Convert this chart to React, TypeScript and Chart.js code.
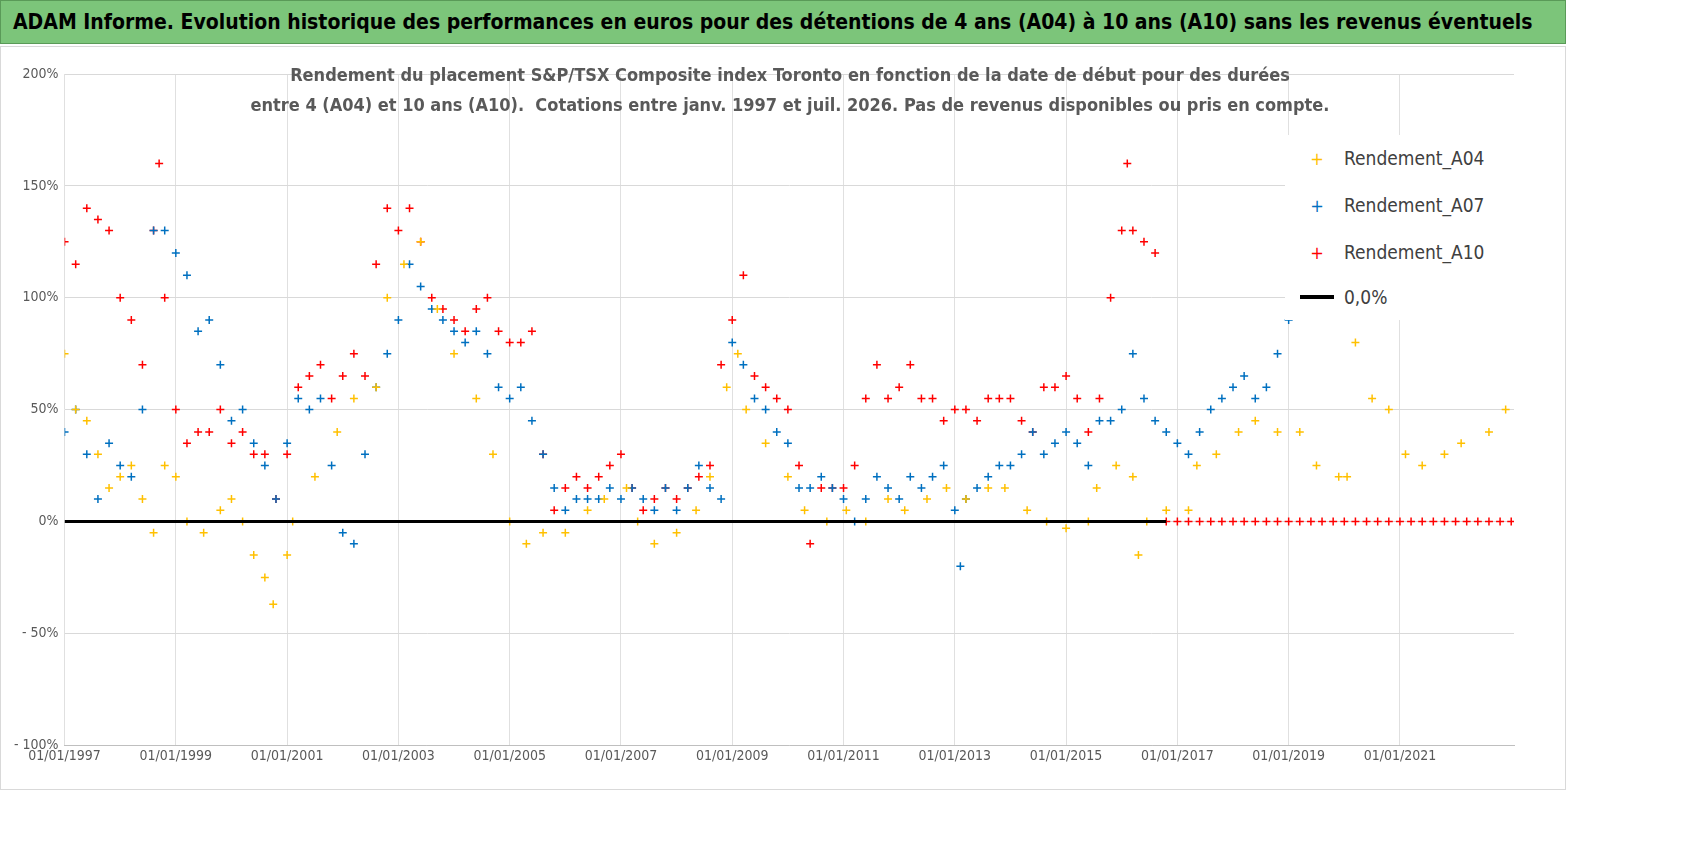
import React, { useEffect, useRef } from "react";
import { Chart, registerables } from "chart.js";
Chart.register(...registerables);

const A04: [number, number][] = [
  [1997.0, 75], [1997.2, 50], [1997.4, 45], [1997.6, 30], [1997.8, 15], [1998.0, 20], [1998.2, 25], [1998.4, 10], [1998.6, -5], [1998.8, 25],
  [1999.0, 20], [1999.2, 0], [1999.5, -5], [1999.8, 5], [2000.0, 10], [2000.2, 0], [2000.4, -15], [2000.6, -25], [2000.75, -37], [2001.0, -15],
  [2001.1, 0], [2001.5, 20], [2001.9, 40], [2002.2, 55], [2002.6, 60], [2002.8, 100], [2003.1, 115], [2003.4, 125], [2003.7, 95], [2004.0, 75],
  [2004.4, 55], [2004.7, 30], [2005.0, 0], [2005.3, -10], [2005.6, -5], [2006.0, -5], [2006.4, 5], [2006.7, 10], [2007.1, 15], [2007.3, 0],
  [2007.6, -10], [2008.0, -5], [2008.35, 5], [2008.6, 20], [2008.9, 60], [2009.1, 75], [2009.25, 50], [2009.6, 35], [2010.0, 20], [2010.3, 5],
  [2010.7, 0], [2011.05, 5], [2011.4, 0], [2011.8, 10], [2012.1, 5], [2012.5, 10], [2012.85, 15], [2013.2, 10], [2013.6, 15], [2013.9, 15],
  [2014.3, 5], [2014.65, 0], [2015.0, -3], [2015.4, 0], [2015.55, 15], [2015.9, 25], [2016.2, 20], [2016.3, -15], [2016.45, 0], [2016.8, 5],
  [2017.2, 5], [2017.35, 25], [2017.7, 30], [2018.1, 40], [2018.4, 45], [2018.8, 40], [2019.2, 40], [2019.5, 25], [2019.9, 20], [2020.05, 20],
  [2020.2, 80], [2020.5, 55], [2020.8, 50], [2021.1, 30], [2021.4, 25], [2021.8, 30], [2022.1, 35], [2022.6, 40], [2022.9, 50],
];

const A07: [number, number][] = [
  [1997.0, 40], [1997.2, 50], [1997.4, 30], [1997.6, 10], [1997.8, 35], [1998.0, 25], [1998.2, 20], [1998.4, 50], [1998.6, 130], [1998.8, 130],
  [1999.0, 120], [1999.2, 110], [1999.4, 85], [1999.6, 90], [1999.8, 70], [2000.0, 45], [2000.2, 50], [2000.4, 35], [2000.6, 25], [2000.8, 10],
  [2001.0, 35], [2001.2, 55], [2001.4, 50], [2001.6, 55], [2001.8, 25], [2002.0, -5], [2002.2, -10], [2002.4, 30], [2002.6, 60], [2002.8, 75],
  [2003.0, 90], [2003.2, 115], [2003.4, 105], [2003.6, 95], [2003.8, 90], [2004.0, 85], [2004.2, 80], [2004.4, 85], [2004.6, 75], [2004.8, 60],
  [2005.0, 55], [2005.2, 60], [2005.4, 45], [2005.6, 30], [2005.8, 15], [2006.0, 5], [2006.2, 10], [2006.4, 10], [2006.6, 10], [2006.8, 15],
  [2007.0, 10], [2007.2, 15], [2007.4, 10], [2007.6, 5], [2007.8, 15], [2008.0, 5], [2008.2, 15], [2008.4, 25], [2008.6, 15], [2008.8, 10],
  [2009.0, 80], [2009.2, 70], [2009.4, 55], [2009.6, 50], [2009.8, 40], [2010.0, 35], [2010.2, 15], [2010.4, 15], [2010.6, 20], [2010.8, 15],
  [2011.0, 10], [2011.2, 0], [2011.4, 10], [2011.6, 20], [2011.8, 15], [2012.0, 10], [2012.2, 20], [2012.4, 15], [2012.6, 20], [2012.8, 25],
  [2013.0, 5], [2013.1, -20], [2013.2, 10], [2013.4, 15], [2013.6, 20], [2013.8, 25], [2014.0, 25], [2014.2, 30], [2014.4, 40], [2014.6, 30],
  [2014.8, 35], [2015.0, 40], [2015.2, 35], [2015.4, 25], [2015.6, 45], [2015.8, 45], [2016.0, 50], [2016.2, 75], [2016.4, 55], [2016.6, 45],
  [2016.8, 40], [2017.0, 35], [2017.2, 30], [2017.4, 40], [2017.6, 50], [2017.8, 55], [2018.0, 60], [2018.2, 65], [2018.4, 55], [2018.6, 60],
  [2018.8, 75], [2019.0, 90], [2019.2, 95],
];

const A10: [number, number][] = [
  [1997.0, 125], [1997.2, 115], [1997.4, 140], [1997.6, 135], [1997.8, 130], [1998.0, 100], [1998.2, 90], [1998.4, 70], [1998.6, 130], [1998.7, 160],
  [1998.8, 100], [1999.0, 50], [1999.2, 35], [1999.4, 40], [1999.6, 40], [1999.8, 50], [2000.0, 35], [2000.2, 40], [2000.4, 30], [2000.6, 30],
  [2000.8, 10], [2001.0, 30], [2001.2, 60], [2001.4, 65], [2001.6, 70], [2001.8, 55], [2002.0, 65], [2002.2, 75], [2002.4, 65], [2002.6, 115],
  [2002.8, 140], [2003.0, 130], [2003.2, 140], [2003.4, 125], [2003.6, 100], [2003.8, 95], [2004.0, 90], [2004.2, 85], [2004.4, 95], [2004.6, 100],
  [2004.8, 85], [2005.0, 80], [2005.2, 80], [2005.4, 85], [2005.6, 30], [2005.8, 5], [2006.0, 15], [2006.2, 20], [2006.4, 15], [2006.6, 20],
  [2006.8, 25], [2007.0, 30], [2007.2, 15], [2007.4, 5], [2007.6, 10], [2007.8, 15], [2008.0, 10], [2008.2, 15], [2008.4, 20], [2008.6, 25],
  [2008.8, 70], [2009.0, 90], [2009.2, 110], [2009.4, 65], [2009.6, 60], [2009.8, 55], [2010.0, 50], [2010.2, 25], [2010.4, -10], [2010.6, 15],
  [2010.8, 15], [2011.0, 15], [2011.2, 25], [2011.4, 55], [2011.6, 70], [2011.8, 55], [2012.0, 60], [2012.2, 70], [2012.4, 55], [2012.6, 55],
  [2012.8, 45], [2013.0, 50], [2013.2, 50], [2013.4, 45], [2013.6, 55], [2013.8, 55], [2014.0, 55], [2014.2, 45], [2014.4, 40], [2014.6, 60],
  [2014.8, 60], [2015.0, 65], [2015.2, 55], [2015.4, 40], [2015.6, 55], [2015.8, 100], [2016.0, 130], [2016.1, 160], [2016.2, 130], [2016.4, 125],
  [2016.6, 120],
  [2016.8, 0], [2017.0, 0], [2017.2, 0], [2017.4, 0], [2017.6, 0], [2017.8, 0], [2018.0, 0], [2018.2, 0], [2018.4, 0], [2018.6, 0],
  [2018.8, 0], [2019.0, 0], [2019.2, 0], [2019.4, 0], [2019.6, 0], [2019.8, 0], [2020.0, 0], [2020.2, 0], [2020.4, 0], [2020.6, 0],
  [2020.8, 0], [2021.0, 0], [2021.2, 0], [2021.4, 0], [2021.6, 0], [2021.8, 0], [2022.0, 0], [2022.2, 0], [2022.4, 0], [2022.6, 0],
  [2022.8, 0], [2023.0, 0],
];

const ZERO: [number, number][] = [[1997.0, 0], [2016.8, 0]];
const X_TICKS = [1997, 1999, 2001, 2003, 2005, 2007, 2009, 2011, 2013, 2015, 2017, 2019, 2021];

const FONT = "'DejaVu Sans Condensed', 'Liberation Sans Narrow', sans-serif";
const COLORS = { a04: "#FFC000", a07: "#0070C0", a10: "#FF0000" };

export default function App() {
  const ref = useRef<HTMLCanvasElement>(null);
  useEffect(() => {
    const toPts = (a: [number, number][]) => a.map(([x, y]) => ({ x, y }));
    const ds = (label: string, data: [number, number][], color: string) => ({
      label, data: toPts(data), borderColor: color, backgroundColor: color,
      pointStyle: "cross", pointRadius: 4, pointBorderWidth: 1.5, showLine: false,
    });
    const chart = new Chart(ref.current!, {
      type: "scatter",
      data: {
        datasets: [
          { label: "0,0%", data: toPts(ZERO), borderColor: "#000", borderWidth: 3, pointRadius: 0, showLine: true } as any,
          ds("Rendement_A04", A04, COLORS.a04),
          ds("Rendement_A07", A07, COLORS.a07),
          ds("Rendement_A10", A10, COLORS.a10),
        ],
      },
      options: {
        animation: false, responsive: false, maintainAspectRatio: false,
        layout: { padding: { top: 16, right: 48, left: 6, bottom: 0 } },
        plugins: { legend: { display: false }, tooltip: { enabled: false } },
        scales: {
          x: {
            type: "linear", min: 1997, max: 2023.05,
            afterBuildTicks: (axis: any) => { axis.ticks = X_TICKS.map((v) => ({ value: v })); },
            ticks: { autoSkip: false, maxRotation: 0, color: "#595959", font: { family: FONT, size: 14 },
              callback: (v: any) => "01/01/" + v },
            grid: { color: "#e0e0e0", drawTicks: false },
            border: { color: "#bfbfbf" },
          },
          y: {
            min: -100, max: 200,
            afterBuildTicks: (axis: any) => { axis.ticks = [-100, -50, 0, 50, 100, 150, 200].map((v) => ({ value: v })); },
            ticks: { color: "#595959", font: { family: FONT, size: 14 }, padding: 6,
              callback: (v: any) => (v < 0 ? "- " + Math.abs(v) + "%" : v + "%") },
            grid: { color: "#d9d9d9", drawTicks: false },
            border: { display: false },
          },
        },
      },
    });
    return () => chart.destroy();
  }, []);

  const leg = (color: string, text: string, top: number, line = false) => (
    <div style={{ position: "absolute", left: 1300, top, display: "flex", alignItems: "center", fontFamily: FONT, fontSize: 19, color: "#404040" }}>
      {line ? <span style={{ width: 34, height: 4, background: "#000", marginRight: 10 }} />
        : <span style={{ width: 34, textAlign: "center", color, fontSize: 18, marginRight: 10 }}>+</span>}
      {text}
    </div>
  );

  return (
    <div style={{ position: "fixed", left: 0, top: 0, width: 1698, height: 856, background: "#fff", overflow: "hidden" }}>
      <div style={{ position: "absolute", left: 0, top: 0, width: 1566, height: 44, background: "#7CC57A", border: "1px solid #5a9a58",
        fontFamily: FONT, fontWeight: "bold", fontSize: 21, lineHeight: "42px", paddingLeft: 12, boxSizing: "border-box", color: "#000", whiteSpace: "nowrap" }}>
        ADAM Informe. Evolution historique des performances en euros pour des détentions de 4 ans (A04) à 10 ans (A10) sans les revenus éventuels
      </div>
      <div style={{ position: "absolute", left: 0, top: 46, width: 1566, height: 744, border: "1px solid #d9d9d9", boxSizing: "border-box" }} />
      <canvas ref={ref} width={1560} height={710} style={{ position: "absolute", left: 2, top: 58, width: 1560, height: 710 }} />
      <div style={{ position: "absolute", left: 240, top: 60, width: 1100, textAlign: "center", fontFamily: FONT, fontWeight: "bold",
        fontSize: 18, lineHeight: "30px", color: "#595959", whiteSpace: "nowrap" }}>
        Rendement du placement S&amp;P/TSX Composite index Toronto en fonction de la date de début pour des durées<br />
        entre 4 (A04) et 10 ans (A10).&nbsp; Cotations entre janv. 1997 et juil. 2026. Pas de revenus disponibles ou pris en compte.
      </div>
      <div style={{ position: "absolute", left: 1285, top: 135, width: 235, height: 185, background: "#fff" }} />
      {leg(COLORS.a04, "Rendement_A04", 147)}
      {leg(COLORS.a07, "Rendement_A07", 194)}
      {leg(COLORS.a10, "Rendement_A10", 241)}
      {leg("#000", "0,0%", 286, true)}
    </div>
  );
}
